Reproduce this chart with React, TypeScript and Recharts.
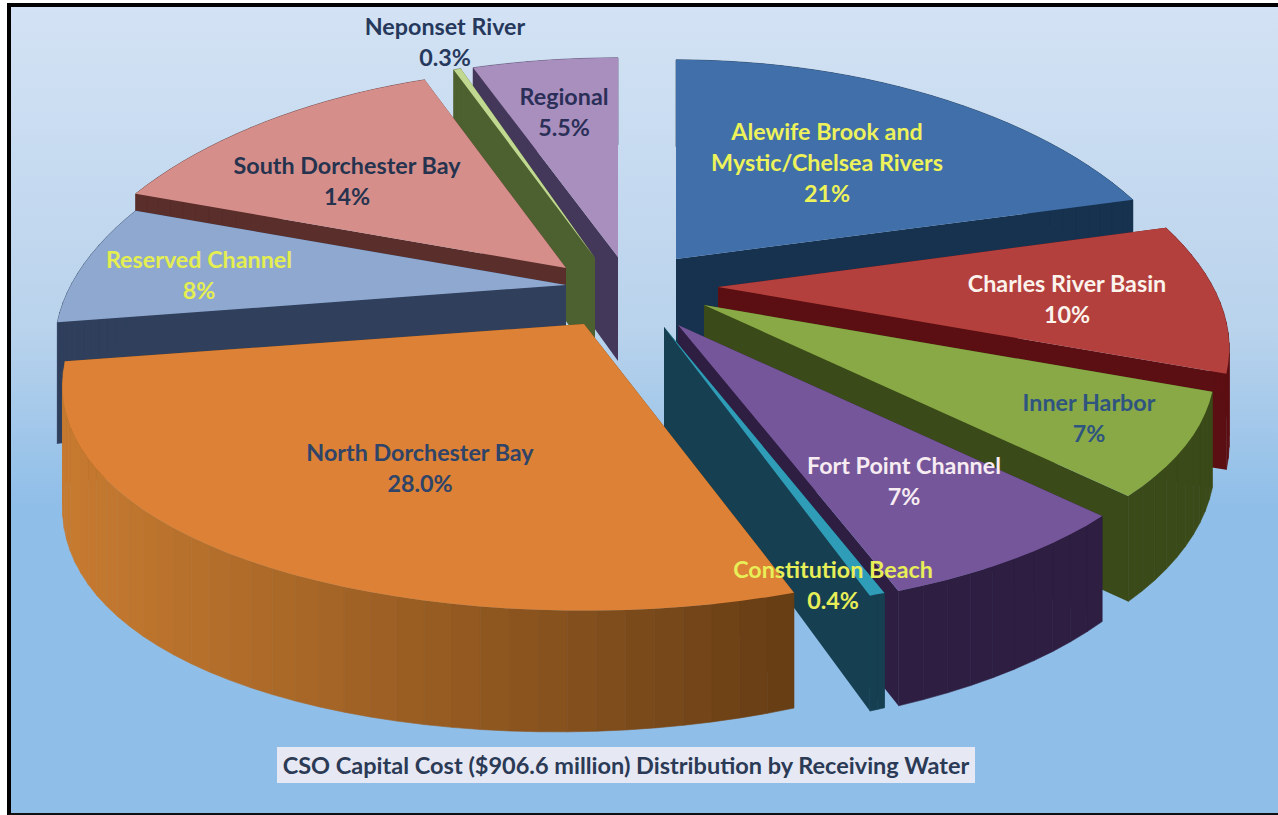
import React from "react";
import { PieChart, Pie } from "recharts";

// clockwise from 12 o'clock, right half then left half (back to front paint order)
const rightNames = ["Alewife Brook and\nMystic/Chelsea Rivers", "Charles River Basin", "Inner Harbor", "Fort Point Channel", "Constitution Beach"];
const rightValues = [21, 10, 7, 7, 0.4];
const rightPct = ["21%", "10%", "7%", "7%", "0.4%"];

// counter-clockwise from 12 o'clock
const leftNames = ["Regional", "Neponset River", "South Dorchester Bay", "Reserved Channel", "North Dorchester Bay"];
const leftValues = [5.5, 0.3, 14, 8, 28];
const leftPct = ["5.5%", "0.3%", "14%", "8%", "28.0%"];

const rightData = rightNames.map((name, i) => ({ name, value: rightValues[i], pct: rightPct[i] }));
const leftData = leftNames.map((name, i) => ({ name, value: leftValues[i], pct: leftPct[i] }));
const allData = [...rightData, ...leftData];

const total = [...rightValues, ...leftValues].reduce((a, b) => a + b, 0);
const rightSpan = (rightValues.reduce((a, b) => a + b, 0) / total) * 360;
const leftSpan = 360 - rightSpan;

// look of each slice, by name
const topColor: Record<string, string> = {
  "Alewife Brook and\nMystic/Chelsea Rivers": "#406fa9",
  "Charles River Basin": "#b4403d",
  "Inner Harbor": "#88a946",
  "Fort Point Channel": "#76569a",
  "Constitution Beach": "#2f9cb8",
  "North Dorchester Bay": "#dc8135",
  "Reserved Channel": "#8fa8d0",
  "South Dorchester Bay": "#d58e8a",
  "Neponset River": "#c0d890",
  "Regional": "#a98fbe",
};
const sideColor: Record<string, string> = {
  "Alewife Brook and\nMystic/Chelsea Rivers": "#17324f",
  "Charles River Basin": "#5c0f12",
  "Inner Harbor": "#3a4a18",
  "Fort Point Channel": "#2d1e42",
  "Constitution Beach": "#164052",
  "North Dorchester Bay": "#6b3f14",
  "Reserved Channel": "#2f3f5c",
  "South Dorchester Bay": "#5a2e2a",
  "Neponset River": "#4d6030",
  "Regional": "#44385a",
};
// explosion of each slice away from the pie centre, px
const explode: Record<string, [number, number]> = {
  "Alewife Brook and\nMystic/Chelsea Rivers": [56, -41],
  "Charles River Basin": [98, -13],
  "Inner Harbor": [84, 5],
  "Fort Point Channel": [58, 25],
  "Constitution Beach": [44, 27],
  "North Dorchester Bay": [-36, 24],
  "Reserved Channel": [-54, -15],
  "South Dorchester Bay": [-54, -32],
  "Neponset River": [-25, -42],
  "Regional": [-2, -43],
};
// a few slices read a little wider than the plain projection
const widen: Record<string, number> = {
  "Alewife Brook and\nMystic/Chelsea Rivers": 1.02,
  "North Dorchester Bay": 1.02,
  "Regional": 1.08,
};
// label centres
const labelPos: Record<string, [number, number]> = {
  "Alewife Brook and\nMystic/Chelsea Rivers": [827, 132],
  "Charles River Basin": [1067, 284],
  "Inner Harbor": [1089, 403],
  "Fort Point Channel": [904, 466],
  "Constitution Beach": [833, 570],
  "North Dorchester Bay": [420, 453],
  "Reserved Channel": [199, 260],
  "South Dorchester Bay": [347, 166],
  "Neponset River": [445, 27],
  "Regional": [564, 97],
};
const labelColor: Record<string, string> = {
  "Alewife Brook and\nMystic/Chelsea Rivers": "#eef25a",
  "Charles River Basin": "#fbf3ec",
  "Inner Harbor": "#2f5480",
  "Fort Point Channel": "#f6ecf2",
  "Constitution Beach": "#e8ee58",
  "North Dorchester Bay": "#2f4468",
  "Reserved Channel": "#e4ee50",
  "South Dorchester Bay": "#26334f",
  "Neponset River": "#26395c",
  "Regional": "#2b2f58",
};

const TILT = 235 / 495;
const PERSP_X = 0.25;
const PERSP_Y = 0.18;

function hexMix(a: string, b: string, t: number) {
  const p = (h: string, i: number) => parseInt(h.slice(i, i + 2), 16);
  const c = [1, 3, 5].map((i) => Math.round(p(a, i) + (p(b, i) - p(a, i)) * t));
  return `rgb(${c[0]},${c[1]},${c[2]})`;
}

function SliceShape(props: any) {
  const { cx, cy, outerRadius, startAngle, endAngle, name } = props;
  const [ex, ey] = explode[name];
  const ax = cx + ex;
  const ay = cy + ey;
  const wide = widen[name] ?? 1;
  const pt = (deg: number) => {
    const a = (deg * Math.PI) / 180;
    const X = Math.cos(a);
    const Y = -Math.sin(a);
    return {
      x: ax + (wide * outerRadius * X) / (1 - PERSP_X * Y),
      y: ay + (outerRadius * TILT * Y) / (1 - PERSP_Y * Y),
      // wall height, taller towards the viewer and towards the left
      d: 104 + 17 * Y - 15 * X,
    };
  };
  const n = Math.max(2, Math.ceil(Math.abs(endAngle - startAngle) / 2.5));
  const arc = Array.from({ length: n + 1 }, (_, i) => pt(startAngle + ((endAngle - startAngle) * i) / n));
  const side = sideColor[name];
  const apexD = 104;
  const sideFace = (p: { x: number; y: number; d: number }) =>
    `M${ax},${ay}L${p.x},${p.y}L${p.x},${p.y + p.d}L${ax},${ay + apexD}Z`;
  const isNorth = name === "North Dorchester Bay";
  return (
    <g>
      <path d={sideFace(arc[0])} fill={side} />
      <path d={sideFace(arc[n])} fill={side} />
      {arc.slice(0, -1).map((p, i) => {
        const q = arc[i + 1];
        // the big orange wall fades from bright on the left to dark on the right
        const t = (p.x - 70) / 720;
        const fill = isNorth ? hexMix("#c67a30", "#653c14", Math.max(0, Math.min(1, t))) : side;
        return (
          <path
            key={i}
            d={`M${p.x},${p.y}L${q.x},${q.y}L${q.x},${q.y + q.d}L${p.x},${p.y + p.d}Z`}
            fill={fill}
            stroke={fill}
            strokeWidth={0.6}
          />
        );
      })}
      <path
        d={`M${ax},${ay}` + arc.map((p) => `L${p.x},${p.y}`).join("") + "Z"}
        fill={topColor[name]}
      />
    </g>
  );
}

function SliceLabel(props: any) {
  const { name, payload } = props;
  const [x, y] = labelPos[name];
  const lines = [...String(name).split("\n"), payload?.pct ?? props.pct];
  return (
    <text
      x={x}
      textAnchor="middle"
      fontFamily="Lato"
      fontWeight={700}
      fontSize={23.3}
      fill={labelColor[name]}
    >
      {lines.map((line: string, i: number) => (
        <tspan key={i} x={x} y={y + 8 + i * 31}>
          {line}
        </tspan>
      ))}
    </text>
  );
}

const noShape = () => <g />;

export default function App() {
  return (
    <div style={{ position: "absolute", left: 0, top: 0, width: 1278, height: 815, background: "#fff", overflow: "hidden" }}>
      <div
        style={{
          position: "absolute",
          left: 7,
          top: 3,
          width: 1271,
          height: 812,
          boxSizing: "border-box",
          borderLeft: "4px solid #000",
          borderTop: "4px solid #000",
          borderBottom: "2px solid #111",
          background: "linear-gradient(180deg,#d3e2f4 0%,#b9d3ec 40%,#8fbee8 62%,#8fbee8 100%)",
        }}
      />
      <div style={{ position: "absolute", left: 0, top: 0 }}>
        <PieChart width={1278} height={815} margin={{ top: 0, right: 0, bottom: 0, left: 0 }}>
          <Pie
            data={rightData}
            dataKey="value"
            nameKey="name"
            cx={620}
            cy={300}
            outerRadius={495}
            startAngle={90}
            endAngle={90 - rightSpan}
            stroke="none"
            shape={SliceShape}
            isAnimationActive={false}
          />
          <Pie
            data={leftData}
            dataKey="value"
            nameKey="name"
            cx={620}
            cy={300}
            outerRadius={495}
            startAngle={90}
            endAngle={90 + leftSpan}
            stroke="none"
            shape={SliceShape}
            isAnimationActive={false}
          />
          <Pie
            data={allData}
            dataKey="value"
            nameKey="name"
            cx={620}
            cy={300}
            outerRadius={495}
            fill="none"
            stroke="none"
            shape={noShape}
            label={SliceLabel}
            labelLine={false}
            isAnimationActive={false}
          />
        </PieChart>
      </div>
      <div
        style={{
          position: "absolute",
          left: 277,
          top: 747,
          width: 698,
          height: 36,
          background: "#e6e8f4",
          color: "#2b3a55",
          fontFamily: "Lato",
          fontWeight: 700,
          fontSize: 23.5,
          lineHeight: "36px",
          textAlign: "center",
          whiteSpace: "nowrap",
        }}
      >
        CSO Capital Cost ($906.6 million) Distribution by Receiving Water
      </div>
    </div>
  );
}
